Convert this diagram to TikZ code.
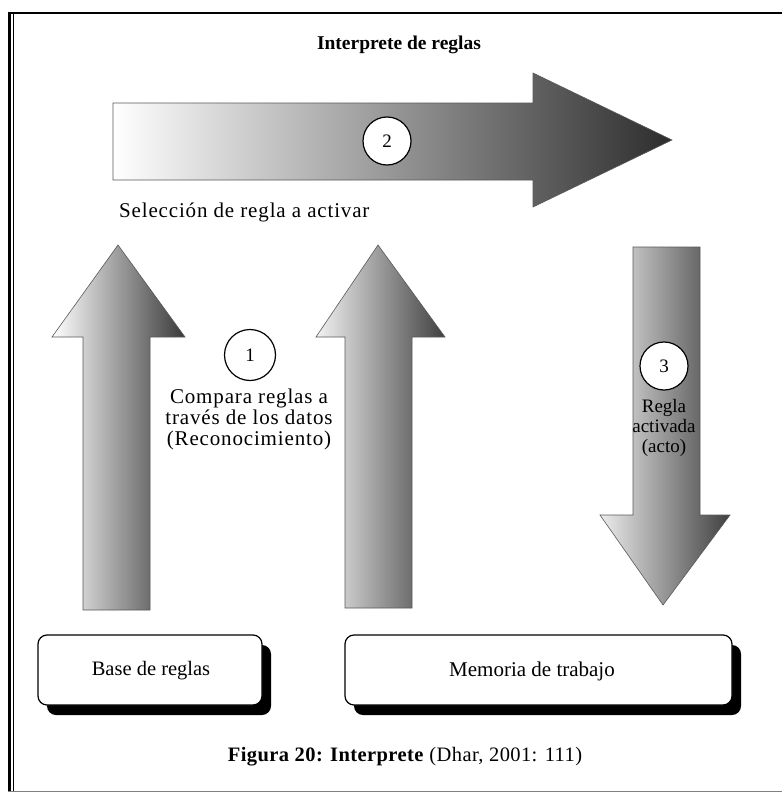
\documentclass[tikz,border=0pt]{standalone}
\usepackage{fontspec}
\setmainfont{Liberation Serif}
\begin{document}
\begin{tikzpicture}[x=1pt,y=-1pt,
  arrowshape/.style={draw=gray!70!black, line width=0.6pt, shading=axis, shading angle=90},
  numcircle/.style={circle, draw=black, line width=1.2pt, fill=white, minimum size=48pt, inner sep=0pt, font=\fontsize{19}{21}\selectfont},
  lbl/.style={font=\fontsize{20}{21}\selectfont, inner sep=0pt},
  widelbl/.style={font=\fontsize{21}{21}\selectfont\addfontfeature{LetterSpace=4}, inner sep=0pt},
  boxshadow/.style={fill=black, rounded corners=9pt},
  boxface/.style={draw=black, line width=1.2pt, fill=white, rounded corners=9pt}
]
\useasboundingbox (0,0) rectangle (782,792);
\fill[white] (0,0) rectangle (782,792);
% frame
\draw[line width=2.5pt] (8,13) -- (782,13);
\draw[line width=2.5pt] (9.5,12) -- (9.5,792);
\draw[line width=1pt] (13.5,14) -- (13.5,792);
\draw[line width=1pt, gray] (8,791) -- (782,791);

% title
\node[inner sep=0pt, font=\fontsize{19.5}{20}\selectfont\bfseries] (title) at (399,45) {Interprete de reglas};

% top horizontal arrow
\path[arrowshape, left color=white, middle color=gray!65, right color=gray!35!black]
  (113,103) -- (533,103) -- (533,73) -- (672,140) -- (533,207) -- (533,180) -- (113,180) -- cycle;
\node[numcircle] (c2) at (387,141) {2};
\node[widelbl, anchor=west] (sel) at (119,212) {Selección de regla a activar};

% left up arrow
\path[arrowshape, left color=white, middle color=gray!60, right color=gray!45!black]
  (83,610) -- (83,337) -- (52,337) -- (118,245) -- (185,337) -- (150,337) -- (150,610) -- cycle;
% middle up arrow
\path[arrowshape, left color=gray!10, middle color=gray!65, right color=gray!50!black]
  (345,608) -- (345,337) -- (316,337) -- (378,245) -- (445,337) -- (412,337) -- (412,608) -- cycle;
% right down arrow
\path[arrowshape, left color=gray!15, middle color=gray!55, right color=gray!50!black]
  (633,247) -- (700,247) -- (700,515) -- (730,515) -- (663,605) -- (600,515) -- (633,515) -- cycle;

\node[numcircle, minimum size=51pt] (c1) at (250,355) {1};
\node[widelbl, align=center] (comp) at (249,419) {Compara reglas a\\través de los datos\\(Reconocimiento)};

\node[numcircle] (c3) at (664,366) {3};
\node[lbl, font=\fontsize{19}{20}\selectfont, align=center] (act) at (664,428) {Regla\\activada\\(acto)};

% boxes
\fill[boxshadow] (47,645) rectangle (271,715);
\draw[boxface] (38,635) rectangle (262,705);
\node[lbl, font=\fontsize{20.5}{21}\selectfont] (base) at (151,671) {Base de reglas};
\fill[boxshadow] (354,645) rectangle (741,715);
\draw[boxface] (345,635) rectangle (732,705);
\node[lbl, font=\fontsize{21}{21}\selectfont] (mem) at (532,671) {Memoria de trabajo};

% caption
\node[lbl, font=\fontsize{20.5}{21}\selectfont\addfontfeature{LetterSpace=2}] (cap) at (405,757) {\textbf{Figura 20: Interprete} (Dhar, 2001: 111)};
\end{tikzpicture}
\end{document}
